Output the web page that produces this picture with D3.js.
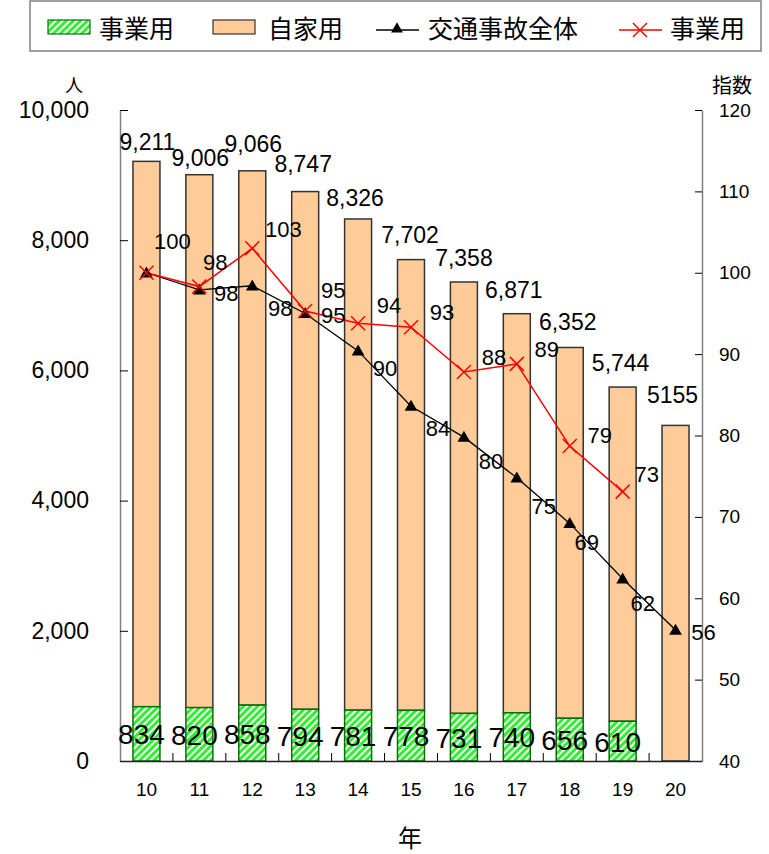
<!DOCTYPE html>
<html>
<head>
<meta charset="utf-8">
<script src="https://cdn.jsdelivr.net/npm/d3@7"></script>
<style>
  html, body { margin: 0; padding: 0; background: #fff; }
  svg { display: block; }
</style>
</head>
<body>
<div id="chart"></div>
<script>
// 年別の死傷者数（人）と指数（平成10年＝100）
const years = ["10", "11", "12", "13", "14", "15", "16", "17", "18", "19", "20"];
const totalPersons = [9211, 9006, 9066, 8747, 8326, 7702, 7358, 6871, 6352, 5744, 5155];
const commercialPersons = [834, 820, 858, 794, 781, 778, 731, 740, 656, 610, null];
const overallIndex = [100, 97.9, 98.4, 95.0, 90.4, 83.6, 79.8, 74.8, 69.2, 62.4, 56.1];
const commercialIndex = [100, 98.3, 103.0, 95.3, 93.8, 93.3, 87.8, 88.8, 78.7, 73.1, null];
const leftTicks = [0, 2000, 4000, 6000, 8000, 10000];
const rightTicks = [40, 50, 60, 70, 80, 90, 100, 110, 120];

// label placement tweaks (pixels)
const totalLabelDy = [-19, -17, -27, -28, -21, -25, -24, -24, -25, -24, -30];
const totalLabelDx = [1, 1, 1, -2, -3, -1, 0, -3, -2, -2, -3];
const overallLabelOffset = [null, [27, 4], [28, 23], [28, 2], [27, 18], [27, 22], [27, 24], [27, 29], [17, 19], [20, 25], [28, 3]];
const commercialLabelOffset = [[26, -31], [16, -24], [31, -19], [28, -20], [31, -18], [31, -15], [30, -15], [30, -14], [30, -11], [24, -17], null];

const W = 769, H = 854;
const plotLeft = 120, plotRight = 702, plotTop = 110, plotBottom = 761;
const jpFont = "'Noto Sans CJK JP', sans-serif";
const numFont = "'Liberation Sans', Arial, sans-serif";

const svg = d3.select("#chart").append("svg")
  .attr("width", W).attr("height", H);

const defs = svg.append("defs");
const hatch = defs.append("pattern")
  .attr("id", "hatch-green")
  .attr("patternUnits", "userSpaceOnUse")
  .attr("width", 5).attr("height", 5)
  .attr("patternTransform", "rotate(45)");
hatch.append("rect").attr("width", 5).attr("height", 5).attr("fill", "#ffffff");
hatch.append("rect").attr("width", 3).attr("height", 5).attr("fill", "#2ef02e");

const x = d3.scaleBand().domain(years).range([plotLeft, plotRight])
  .paddingInner(0.49).paddingOuter(0.245);
const y = d3.scaleLinear().domain([0, 10000]).range([plotBottom, plotTop]);
const yIdx = d3.scaleLinear().domain([40, 120]).range([plotBottom, plotTop]);
const cx = d => x(d) + x.bandwidth() / 2;

const rows = years.map((yr, i) => ({
  yr, i,
  total: totalPersons[i],
  comm: commercialPersons[i] == null ? 0 : commercialPersons[i],
  hasComm: commercialPersons[i] != null
}));

// stacked bars: 事業用 at the bottom, 自家用 on top
const gBars = svg.append("g");
gBars.selectAll("rect.private").data(rows).join("rect")
  .attr("class", "private")
  .attr("x", d => x(d.yr)).attr("width", x.bandwidth())
  .attr("y", d => y(d.total))
  .attr("height", d => y(d.comm) - y(d.total))
  .attr("fill", "#ffcc99").attr("stroke", "#333").attr("stroke-width", 1.5);
gBars.selectAll("rect.comm").data(rows.filter(d => d.hasComm)).join("rect")
  .attr("class", "comm")
  .attr("x", d => x(d.yr)).attr("width", x.bandwidth())
  .attr("y", d => y(d.comm))
  .attr("height", d => y(0) - y(d.comm))
  .attr("fill", "url(#hatch-green)").attr("stroke", "#0a6e0a").attr("stroke-width", 1.5);

// axes
const axL = svg.append("g").attr("transform", `translate(${plotLeft},0)`)
  .call(d3.axisLeft(y).tickValues(leftTicks).tickFormat(d3.format(","))
    .tickSizeInner(-8).tickSizeOuter(0).tickPadding(31));
axL.select(".domain").attr("stroke", "#808080").attr("stroke-width", 1.5);
axL.selectAll(".tick line").attr("stroke", "#000");
axL.selectAll(".tick text").attr("font-family", numFont).attr("font-size", 23).attr("fill", "#000");

const axR = svg.append("g").attr("transform", `translate(${plotRight},0)`)
  .call(d3.axisRight(yIdx).tickValues(rightTicks)
    .tickSizeInner(-7).tickSizeOuter(0).tickPadding(17));
axR.select(".domain").attr("stroke", "#808080").attr("stroke-width", 1.5);
axR.selectAll(".tick line").attr("stroke", "#000");
axR.selectAll(".tick text").attr("font-family", numFont).attr("font-size", 19).attr("fill", "#000");

const axB = svg.append("g").attr("transform", `translate(0,${plotBottom})`)
  .call(d3.axisBottom(x).tickSize(0).tickPadding(22));
axB.select(".domain").attr("stroke", "#222").attr("stroke-width", 1.5);
axB.selectAll(".tick text").attr("font-family", numFont).attr("font-size", 19).attr("fill", "#000");
// boundary ticks between categories
const bounds = years.slice(1).map(d => x(d) - x.step() * x.paddingInner() / 2);
axB.selectAll("line.bound").data(bounds).join("line")
  .attr("class", "bound")
  .attr("x1", d => d).attr("x2", d => d).attr("y1", 0).attr("y2", -8)
  .attr("stroke", "#000");

// index lines
const indexLine = d3.line().x(d => cx(d.yr)).y(d => yIdx(d.v));
const overallPts = years.map((yr, i) => ({ yr, i, v: overallIndex[i] }));
const commPts = years.map((yr, i) => ({ yr, i, v: commercialIndex[i] })).filter(d => d.v != null);

svg.append("path").datum(overallPts)
  .attr("d", indexLine).attr("fill", "none").attr("stroke", "#000").attr("stroke-width", 1.3);
svg.append("path").datum(commPts)
  .attr("d", indexLine).attr("fill", "none").attr("stroke", "#ff0000").attr("stroke-width", 1.5);

svg.append("g").selectAll("path").data(overallPts).join("path")
  .attr("d", d3.symbol().type(d3.symbolTriangle).size(70))
  .attr("transform", d => `translate(${cx(d.yr)},${yIdx(d.v) + 1})`)
  .attr("fill", "#000");

const crossSize = 7;
const crosses = svg.append("g").selectAll("g").data(commPts).join("g")
  .attr("transform", d => `translate(${cx(d.yr)},${yIdx(d.v)})`);
crosses.append("line").attr("x1", -crossSize).attr("y1", -crossSize).attr("x2", crossSize).attr("y2", crossSize)
  .attr("stroke", "#ff0000").attr("stroke-width", 1.5);
crosses.append("line").attr("x1", -crossSize).attr("y1", crossSize).attr("x2", crossSize).attr("y2", -crossSize)
  .attr("stroke", "#ff0000").attr("stroke-width", 1.5);

// data labels
const gLab = svg.append("g").attr("font-family", numFont).attr("fill", "#000")
  .attr("text-anchor", "middle").attr("dominant-baseline", "central");
const fmt = d3.format(",");

gLab.selectAll("text.total").data(rows).join("text")
  .attr("class", "total")
  .attr("x", d => cx(d.yr) + totalLabelDx[d.i])
  .attr("y", d => y(d.total) + totalLabelDy[d.i])
  .attr("font-size", 23)
  .text(d => d.i === rows.length - 1 ? String(d.total) : fmt(d.total));

gLab.selectAll("text.comm").data(rows.filter(d => d.hasComm)).join("text")
  .attr("class", "comm")
  .attr("x", d => cx(d.yr) - 5)
  .attr("y", d => (y(d.comm) + y(0)) / 2 + 1)
  .attr("font-size", 28)
  .text(d => d.comm);

gLab.selectAll("text.ovi").data(overallPts.filter(d => overallLabelOffset[d.i])).join("text")
  .attr("class", "ovi")
  .attr("x", d => cx(d.yr) + overallLabelOffset[d.i][0])
  .attr("y", d => yIdx(d.v) + overallLabelOffset[d.i][1])
  .attr("font-size", 22)
  .text(d => Math.round(d.v));

gLab.selectAll("text.cmi").data(commPts.filter(d => commercialLabelOffset[d.i])).join("text")
  .attr("class", "cmi")
  .attr("x", d => cx(d.yr) + commercialLabelOffset[d.i][0])
  .attr("y", d => yIdx(d.v) + commercialLabelOffset[d.i][1])
  .attr("font-size", 22)
  .text(d => Math.round(d.v));

// axis titles
svg.append("text").attr("x", 74).attr("y", 84).attr("text-anchor", "middle")
  .attr("dominant-baseline", "central").attr("font-family", jpFont).attr("font-size", 18).text("人");
svg.append("text").attr("x", 732).attr("y", 84).attr("text-anchor", "middle")
  .attr("dominant-baseline", "central").attr("font-family", jpFont).attr("font-size", 20).text("指数");
svg.append("text").attr("x", 410).attr("y", 836).attr("text-anchor", "middle")
  .attr("dominant-baseline", "central").attr("font-family", jpFont).attr("font-size", 24).text("年");

// legend
const lg = svg.append("g").attr("font-family", jpFont).attr("font-size", 25);
lg.append("rect").attr("x", 30).attr("y", 1).attr("width", 731).attr("height", 50)
  .attr("fill", "#fff").attr("stroke", "#808080").attr("stroke-width", 1.5);
const ly = 27;
lg.append("rect").attr("x", 48).attr("y", 20).attr("width", 42).attr("height", 14)
  .attr("fill", "url(#hatch-green)").attr("stroke", "#0a6e0a").attr("stroke-width", 1.2);
lg.append("text").attr("x", 99).attr("y", ly).attr("dominant-baseline", "central").text("事業用");
lg.append("rect").attr("x", 213).attr("y", 20).attr("width", 42).attr("height", 14)
  .attr("fill", "#ffcc99").attr("stroke", "#333").attr("stroke-width", 1.2);
lg.append("text").attr("x", 268).attr("y", ly).attr("dominant-baseline", "central").text("自家用");
lg.append("line").attr("x1", 376).attr("x2", 419).attr("y1", ly + 3).attr("y2", ly + 3)
  .attr("stroke", "#000").attr("stroke-width", 1.3);
lg.append("path").attr("d", d3.symbol().type(d3.symbolTriangle).size(60))
  .attr("transform", `translate(397,${ly + 2})`).attr("fill", "#000");
lg.append("text").attr("x", 428).attr("y", ly).attr("dominant-baseline", "central").text("交通事故全体");
lg.append("line").attr("x1", 619).attr("x2", 662).attr("y1", ly + 3).attr("y2", ly + 3)
  .attr("stroke", "#ff0000").attr("stroke-width", 1.5);
const lx = lg.append("g").attr("transform", `translate(640,${ly + 3})`);
lx.append("line").attr("x1", -7).attr("y1", -7).attr("x2", 7).attr("y2", 7).attr("stroke", "#ff0000").attr("stroke-width", 1.5);
lx.append("line").attr("x1", -7).attr("y1", 7).attr("x2", 7).attr("y2", -7).attr("stroke", "#ff0000").attr("stroke-width", 1.5);
lg.append("text").attr("x", 670).attr("y", ly).attr("dominant-baseline", "central").text("事業用");
</script>
</body>
</html>
